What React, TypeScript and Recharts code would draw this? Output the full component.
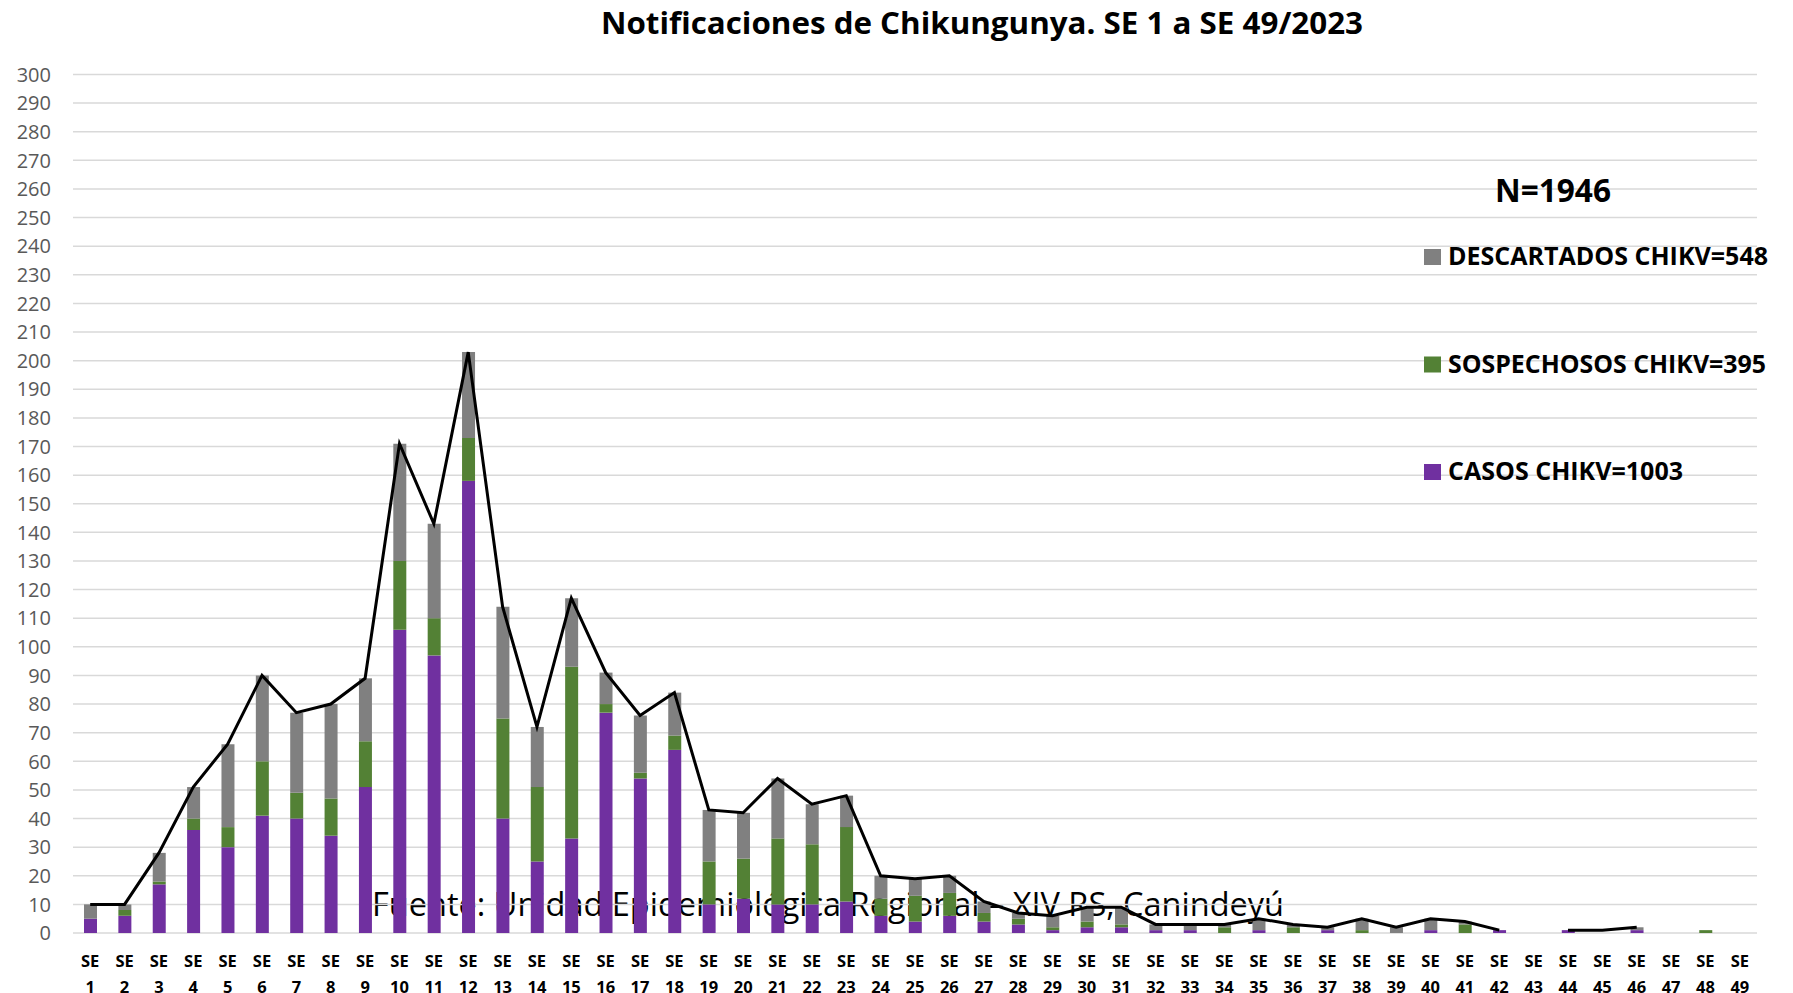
import React from "react";
import { ComposedChart, Bar, Line, XAxis, YAxis, CartesianGrid } from "recharts";

const weeks = [
  "SE 1", "SE 2", "SE 3", "SE 4", "SE 5", "SE 6", "SE 7", "SE 8", "SE 9", "SE 10",
  "SE 11", "SE 12", "SE 13", "SE 14", "SE 15", "SE 16", "SE 17", "SE 18", "SE 19", "SE 20",
  "SE 21", "SE 22", "SE 23", "SE 24", "SE 25", "SE 26", "SE 27", "SE 28", "SE 29", "SE 30",
  "SE 31", "SE 32", "SE 33", "SE 34", "SE 35", "SE 36", "SE 37", "SE 38", "SE 39", "SE 40",
  "SE 41", "SE 42", "SE 43", "SE 44", "SE 45", "SE 46", "SE 47", "SE 48", "SE 49",
];

const casos = [
  5, 6, 17, 36, 30, 41, 40, 34, 51, 106,
  97, 158, 40, 25, 33, 77, 54, 64, 10, 12,
  10, 10, 11, 6, 4, 6, 4, 3, 1, 2,
  2, 1, 1, 0, 1, 0, 1, 0, 0, 1,
  0, 1, 0, 1, 0, 1, 0, 0, 0,
];

const sospechosos = [
  0, 2, 1, 4, 7, 19, 9, 13, 16, 24,
  13, 15, 35, 26, 60, 3, 2, 5, 15, 14,
  23, 21, 26, 6, 9, 8, 3, 2, 1, 2,
  1, 0, 0, 2, 0, 2, 0, 1, 0, 0,
  3, 0, 0, 0, 0, 0, 0, 1, 0,
];

const descartados = [
  5, 2, 10, 11, 29, 30, 28, 33, 22, 41,
  33, 30, 39, 21, 24, 11, 20, 15, 18, 16,
  21, 14, 11, 8, 6, 6, 4, 2, 4, 5,
  6, 2, 2, 1, 4, 1, 1, 4, 2, 4,
  1, 0, 0, 0, 0, 1, 0, 0, 0,
];

const totalLine: (number | null)[] = [
  10, 10, 28, 51, 66, 90, 77, 80, 89, 171,
  143, 203, 114, 72, 117, 91, 76, 84, 43, 42,
  54, 45, 48, 20, 19, 20, 11, 7, 6, 9,
  9, 3, 3, 3, 5, 3, 2, 5, 2, 5,
  4, 1, null, 1, 1, 2, null, null, null,
];

const yTicks = [
  0, 10, 20, 30, 40, 50, 60, 70, 80, 90, 100, 110, 120, 130, 140, 150,
  160, 170, 180, 190, 200, 210, 220, 230, 240, 250, 260, 270, 280, 290, 300,
];

const legendItems = [
  { label: "DESCARTADOS CHIKV=548", color: "#808080", width: 320 },
  { label: "SOSPECHOSOS CHIKV=395", color: "#538135", width: 318 },
  { label: "CASOS CHIKV=1003", color: "#7030A0", width: 235 },
];

const titleText = "Notificaciones de Chikungunya. SE 1 a SE 49/2023";
const totalText = "N=1946";
const sourceText = "Fuente: Unidad Epidemiológica Regional – XIV RS, Canindeyú";

const data = weeks.map((w, i) => ({
  week: w,
  casos: casos[i],
  sospechosos: sospechosos[i],
  descartados: descartados[i],
  total: totalLine[i],
}));

const FONT = "'Open Sans', 'Noto Sans', sans-serif";

const XTick = (props: any) => {
  const { x, payload } = props;
  const parts = String(payload.value).split(" ");
  return (
    <g>
      <text x={x} y={967} textAnchor="middle" fontFamily={FONT} fontWeight={700} fontSize={16.5} fill="#000">
        {parts[0]}
      </text>
      <text x={x} y={993} textAnchor="middle" fontFamily={FONT} fontWeight={700} fontSize={16.5} fill="#000">
        {parts[1]}
      </text>
    </g>
  );
};

const YTick = (props: any) => {
  const { y, payload } = props;
  return (
    <text x={51} y={y} dy="0.36em" textAnchor="end" fontFamily={FONT} fontSize={20} fill="#595959">
      {payload.value}
    </text>
  );
};

export default function App() {
  return (
    <div style={{ position: "absolute", left: 0, top: 0, width: 1793, height: 993, background: "#fff" }}>
      <svg width={1793} height={993} style={{ position: "absolute", left: 0, top: 0 }}>
        <text
          x={372}
          y={916}
          fontFamily={FONT}
          fontSize={32}
          fill="#000"
          textLength={912}
          lengthAdjust="spacingAndGlyphs"
        >
          {sourceText}
        </text>
      </svg>
      <div style={{ position: "absolute", left: 0, top: 0 }}>
        <ComposedChart
          width={1793}
          height={993}
          data={data}
          margin={{ top: 74.5, right: 36, bottom: 0, left: 0 }}
        >
          <CartesianGrid vertical={false} stroke="#d9d9d9" strokeWidth={1.5} />
          <XAxis
            dataKey="week"
            interval={0}
            tickLine={false}
            axisLine={false}
            height={60}
            tick={<XTick />}
          />
          <YAxis
            domain={[0, 300]}
            ticks={yTicks}
            interval={0}
            width={73}
            tickLine={false}
            axisLine={false}
            tick={<YTick />}
          />
          <Bar dataKey="casos" stackId="a" fill="#7030A0" barSize={13} isAnimationActive={false} />
          <Bar dataKey="sospechosos" stackId="a" fill="#538135" barSize={13} isAnimationActive={false} />
          <Bar dataKey="descartados" stackId="a" fill="#808080" barSize={13} isAnimationActive={false} />
          <Line
            dataKey="total"
            type="linear"
            stroke="#000"
            strokeWidth={3}
            dot={false}
            activeDot={false}
            connectNulls={false}
            legendType="none"
            isAnimationActive={false}
          />
        </ComposedChart>
      </div>
      <svg width={1793} height={993} style={{ position: "absolute", left: 0, top: 0, pointerEvents: "none" }}>
        <text
          x={982}
          y={34}
          textAnchor="middle"
          fontFamily={FONT}
          fontWeight={700}
          fontSize={31}
          fill="#000"
          textLength={762}
          lengthAdjust="spacingAndGlyphs"
        >
          {titleText}
        </text>
        <text
          x={1495}
          y={202}
          fontFamily={FONT}
          fontWeight={700}
          fontSize={32}
          fill="#000"
          textLength={116}
          lengthAdjust="spacingAndGlyphs"
        >
          {totalText}
        </text>
        {legendItems.map((item, i) => {
          const baseline = 265 + i * 107.5;
          return (
            <g key={item.label}>
              <rect x={1424} y={baseline - 16} width={17} height={16} fill={item.color} />
              <text
                x={1448}
                y={baseline}
                fontFamily={FONT}
                fontWeight={700}
                fontSize={25}
                fill="#000"
                textLength={item.width}
                lengthAdjust="spacingAndGlyphs"
              >
                {item.label}
              </text>
            </g>
          );
        })}
      </svg>
    </div>
  );
}
